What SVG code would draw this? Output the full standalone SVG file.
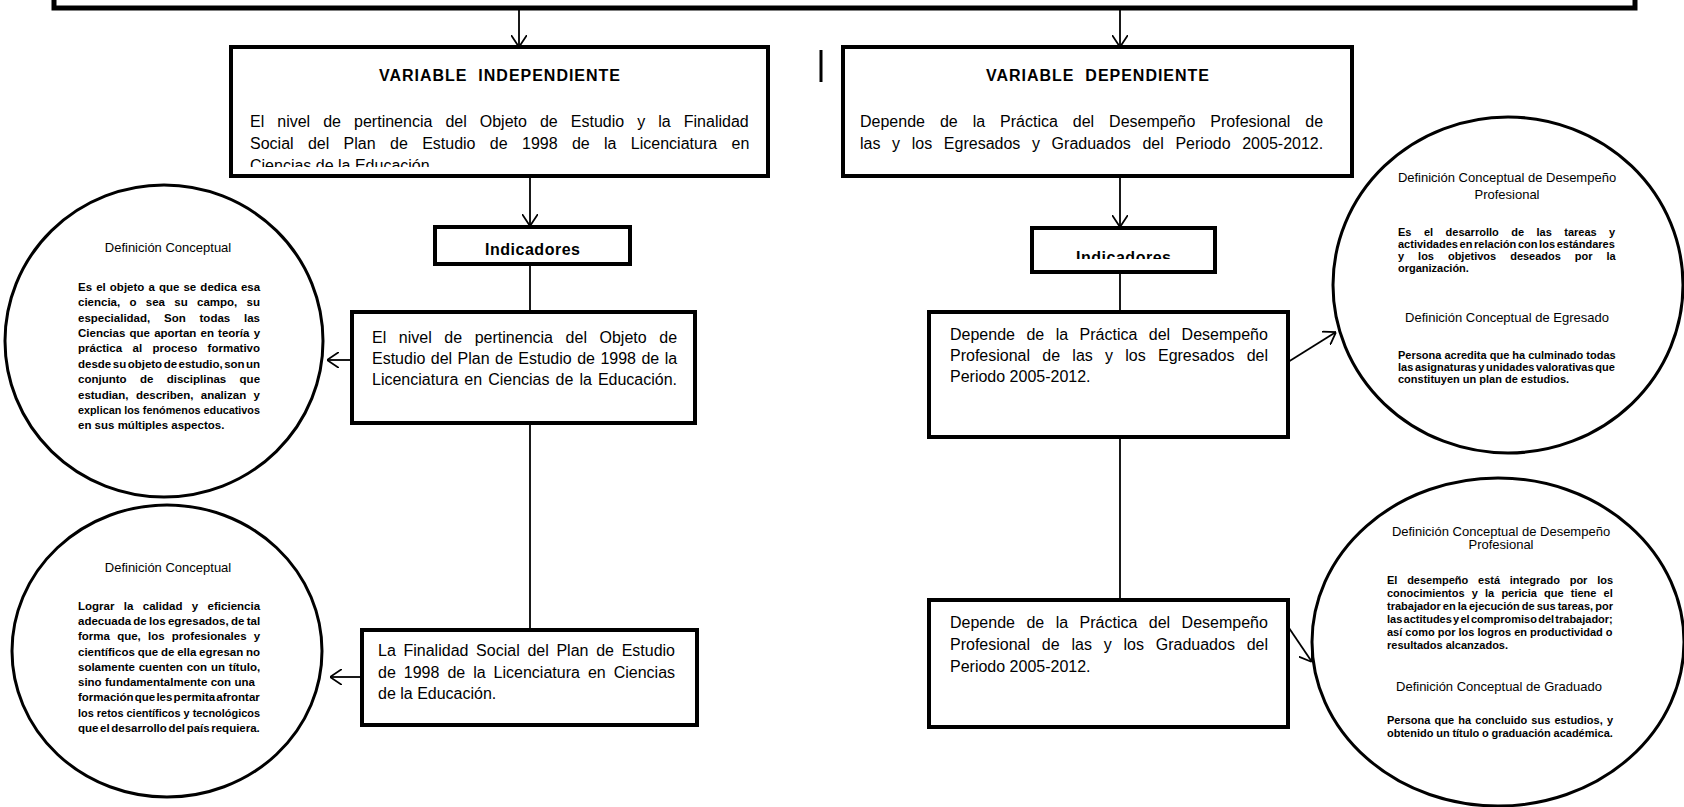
<svg xmlns="http://www.w3.org/2000/svg" width="1684" height="807" viewBox="0 0 1684 807">
<style>
.box{fill:#fff;stroke:#000;stroke-width:4}
.topbox{fill:#fff;stroke:#000;stroke-width:5}
.circ{fill:#fff;stroke:#000;stroke-width:3}
.con{fill:none;stroke:#000;stroke-width:1.8}
.t{font-family:"Liberation Sans",Arial,sans-serif;font-size:16px;fill:#000}
.tb{font-family:"Liberation Sans",Arial,sans-serif;font-size:16px;font-weight:bold;fill:#000}
.ct{font-family:"Liberation Sans",Arial,sans-serif;font-size:13px;fill:#000}
.cb{font-family:"Liberation Sans",Arial,sans-serif;font-size:11.5px;font-weight:bold;fill:#000}
.rb{font-family:"Liberation Sans",Arial,sans-serif;font-size:11px;font-weight:bold;fill:#000}
</style>
<defs>
<marker id="arr" markerUnits="userSpaceOnUse" viewBox="0 0 12 16" refX="12" refY="8" markerWidth="12" markerHeight="16" orient="auto">
<path d="M0,0 L12,8 L0,16" fill="none" stroke="#000" stroke-width="1.8"/>
</marker>
<clipPath id="clipVI"><rect x="233" y="49" width="533" height="118"/></clipPath>
<clipPath id="clipIR"><rect x="1034" y="230" width="179" height="29"/></clipPath>
</defs>
<rect width="1684" height="807" fill="#fff"/>

<g id="connectors">
<line class="con" x1="519" y1="10" x2="519" y2="47" marker-end="url(#arr)"/>
<line class="con" x1="1120" y1="10" x2="1120" y2="47" marker-end="url(#arr)"/>
<line class="con" x1="530" y1="176" x2="530" y2="226" marker-end="url(#arr)"/>
<line class="con" x1="530" y1="264" x2="530" y2="312"/>
<line class="con" x1="530" y1="423" x2="530" y2="628"/>
<line class="con" x1="352" y1="360" x2="327" y2="360" marker-end="url(#arr)"/>
<line class="con" x1="362" y1="677" x2="330" y2="677" marker-end="url(#arr)"/>
<line class="con" x1="1120" y1="176" x2="1120" y2="227" marker-end="url(#arr)"/>
<line class="con" x1="1120" y1="272" x2="1120" y2="312"/>
<line class="con" x1="1120" y1="437" x2="1120" y2="600"/>
<line class="con" x1="1288" y1="362" x2="1336" y2="332" marker-end="url(#arr)"/>
<line class="con" x1="1289" y1="628" x2="1312" y2="662" marker-end="url(#arr)"/>
</g>

<g id="top-box">
<rect class="topbox" x="54" y="-20" width="1581" height="28"/>
</g>

<g id="mark">
<line x1="821" y1="50" x2="821" y2="82" stroke="#000" stroke-width="3"/>
</g>

<g id="variable-independiente">
<rect class="box" x="231" y="47" width="537" height="129"/>
<text class="tb" x="499.5" y="81" text-anchor="middle" textLength="241">VARIABLE&#160; INDEPENDIENTE</text>
<g clip-path="url(#clipVI)">
<text class="t" x="250" y="127" word-spacing="8.6">El nivel de pertinencia del Objeto de Estudio y la Finalidad</text>
<text class="t" x="250" y="149" word-spacing="9.9">Social del Plan de Estudio de 1998 de la Licenciatura en</text>
<text class="t" x="250" y="171">Ciencias de la Educación.</text>
</g>
</g>

<g id="variable-dependiente">
<rect class="box" x="843" y="47" width="509" height="129"/>
<text class="tb" x="1097.5" y="81" text-anchor="middle" textLength="223">VARIABLE&#160; DEPENDIENTE</text>
<text class="t" x="860" y="127" word-spacing="10.5">Depende de la Práctica del Desempeño Profesional de</text>
<text class="t" x="860" y="149" word-spacing="7.2">las y los Egresados y Graduados del Periodo 2005-2012.</text>
</g>

<g id="indicadores-izq">
<rect class="box" x="435" y="227" width="195" height="37"/>
<text class="tb" x="485" y="255" textLength="95">Indicadores</text>
</g>

<g id="indicador-objeto">
<rect class="box" x="352" y="312" width="343" height="111"/>
<text class="t" x="372" y="343" word-spacing="8.15">El nivel de pertinencia del Objeto de</text>
<text class="t" x="372" y="364" word-spacing="1">Estudio del Plan de Estudio de 1998 de la</text>
<text class="t" x="372" y="385" word-spacing="1.6">Licenciatura en Ciencias de la Educación.</text>
</g>

<g id="indicador-finalidad">
<rect class="box" x="362" y="630" width="335" height="95"/>
<text class="t" x="378" y="656" word-spacing="3.25">La Finalidad Social del Plan de Estudio</text>
<text class="t" x="378" y="678" word-spacing="3.55">de 1998 de la Licenciatura en Ciencias</text>
<text class="t" x="378" y="699">de la Educación.</text>
</g>

<g id="indicadores-der">
<rect class="box" x="1032" y="228" width="183" height="44"/>
<g clip-path="url(#clipIR)">
<text class="tb" x="1076" y="263" textLength="95">Indicadores</text>
</g>
</g>

<g id="indicador-egresados">
<rect class="box" x="929" y="312" width="359" height="125"/>
<text class="t" x="950" y="340" word-spacing="7">Depende de la Práctica del Desempeño</text>
<text class="t" x="950" y="361" word-spacing="7.8">Profesional de las y los Egresados del</text>
<text class="t" x="950" y="382">Periodo 2005-2012.</text>
</g>

<g id="indicador-graduados">
<rect class="box" x="929" y="600" width="359" height="127"/>
<text class="t" x="950" y="628" word-spacing="7">Depende de la Práctica del Desempeño</text>
<text class="t" x="950" y="650" word-spacing="7.35">Profesional de las y los Graduados del</text>
<text class="t" x="950" y="672">Periodo 2005-2012.</text>
</g>

<g id="def-objeto">
<ellipse class="circ" cx="164" cy="341" rx="159" ry="156"/>
<text class="ct" x="168" y="252" text-anchor="middle">Definición Conceptual</text>
<text class="cb" x="78" y="291" word-spacing="0.9">Es el objeto a que se dedica esa</text>
<text class="cb" x="78" y="306" word-spacing="6.1">ciencia, o sea su campo, su</text>
<text class="cb" x="78" y="322" word-spacing="10.6">especialidad, Son todas las</text>
<text class="cb" x="78" y="337" word-spacing="1">Ciencias que aportan en teoría y</text>
<text class="cb" x="78" y="352" word-spacing="7.2">práctica al proceso formativo</text>
<text class="cb" x="78" y="368" word-spacing="-1.7">desde su objeto de estudio, son un</text>
<text class="cb" x="78" y="383" word-spacing="10.2">conjunto de disciplinas que</text>
<text class="cb" x="78" y="399" word-spacing="4.2">estudian, describen, analizan y</text>
<text class="cb" x="78" y="414" textLength="182" lengthAdjust="spacingAndGlyphs">explican los fenómenos educativos</text>
<text class="cb" x="78" y="429">en sus múltiples aspectos.</text>
</g>

<g id="def-finalidad">
<ellipse class="circ" cx="167" cy="651" rx="155" ry="146"/>
<text class="ct" x="168" y="572" text-anchor="middle">Definición Conceptual</text>
<text class="cb" x="78" y="610" word-spacing="6.2">Lograr la calidad y eficiencia</text>
<text class="cb" x="78" y="625" word-spacing="-0.9">adecuada de los egresados, de tal</text>
<text class="cb" x="78" y="640" word-spacing="4">forma que, los profesionales y</text>
<text class="cb" x="78" y="656" word-spacing="-0.4">científicos que de ella egresan no</text>
<text class="cb" x="78" y="671" word-spacing="0.65">solamente cuenten con un título,</text>
<text class="cb" x="78" y="686" word-spacing="0.2">sino fundamentalmente con una</text>
<text class="cb" x="78" y="701" word-spacing="-2">formación que les permita afrontar</text>
<text class="cb" x="78" y="717" textLength="182" lengthAdjust="spacingAndGlyphs">los retos científicos y tecnológicos</text>
<text class="cb" x="78" y="732" word-spacing="-1.6">que el desarrollo del país requiera.</text>
</g>

<g id="def-egresado">
<ellipse class="circ" cx="1508" cy="285" rx="175" ry="168"/>
<text class="ct" x="1507" y="182" text-anchor="middle">Definición Conceptual de Desempeño</text>
<text class="ct" x="1507" y="199" text-anchor="middle">Profesional</text>
<text class="rb" x="1398" y="236" word-spacing="9.4">Es el desarrollo de las tareas y</text>
<text class="rb" x="1398" y="248" word-spacing="-1.4">actividades en relación con los estándares</text>
<text class="rb" x="1398" y="260" word-spacing="10.9">y los objetivos deseados por la</text>
<text class="rb" x="1398" y="272">organización.</text>
<text class="ct" x="1507" y="322" text-anchor="middle">Definición Conceptual de Egresado</text>
<text class="rb" x="1398" y="359">Persona acredita que ha culminado todas</text>
<text class="rb" x="1398" y="371" word-spacing="-1.4">las asignaturas y unidades valorativas que</text>
<text class="rb" x="1398" y="383">constituyen un plan de estudios.</text>
</g>

<g id="def-graduado">
<ellipse class="circ" cx="1498" cy="642" rx="186" ry="164"/>
<text class="ct" x="1501" y="536" text-anchor="middle">Definición Conceptual de Desempeño</text>
<text class="ct" x="1501" y="549" text-anchor="middle">Profesional</text>
<text class="rb" x="1387" y="584" word-spacing="6.7">El desempeño está integrado por los</text>
<text class="rb" x="1387" y="597" word-spacing="4.1">conocimientos y la pericia que tiene el</text>
<text class="rb" x="1387" y="610" word-spacing="-1">trabajador en la ejecución de sus tareas, por</text>
<text class="rb" x="1387" y="623" word-spacing="-1.8">las actitudes y el compromiso del trabajador;</text>
<text class="rb" x="1387" y="636">así como por los logros en productividad o</text>
<text class="rb" x="1387" y="649">resultados alcanzados.</text>
<text class="ct" x="1499" y="691" text-anchor="middle">Definición Conceptual de Graduado</text>
<text class="rb" x="1387" y="724" word-spacing="1.1">Persona que ha concluido sus estudios, y</text>
<text class="rb" x="1387" y="737" word-spacing="-0.3">obtenido un título o graduación académica.</text>
</g>
</svg>
